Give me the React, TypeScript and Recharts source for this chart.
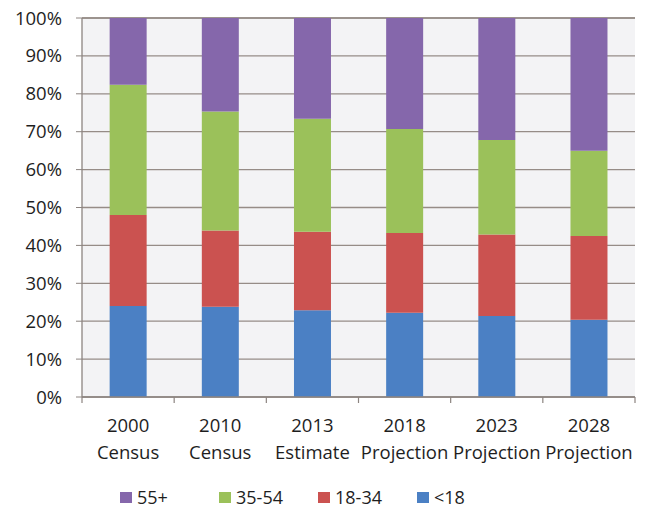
import { BarChart, Bar, XAxis, YAxis, CartesianGrid, Legend } from 'recharts';

const years = ['2000', '2010', '2013', '2018', '2023', '2028'];
const kinds = ['Census', 'Census', 'Estimate', 'Projection', 'Projection', 'Projection'];

// share of population by age group, in percent
const under18 = [24.0, 23.8, 22.9, 22.2, 21.4, 20.4];
const age18to34 = [24.0, 20.1, 20.7, 21.1, 21.5, 22.1];
const age35to54 = [34.4, 31.4, 29.8, 27.4, 24.9, 22.5];
const age55plus = [17.6, 24.7, 26.6, 29.3, 32.2, 35.0];

const yTicks = [0, 10, 20, 30, 40, 50, 60, 70, 80, 90, 100];

const series = [
  { key: 'u18', name: '<18', color: '#4b80c4' },
  { key: 'a18', name: '18-34', color: '#cb5250' },
  { key: 'a35', name: '35-54', color: '#9bc15a' },
  { key: 'a55', name: '55+', color: '#8567ab' },
];

const data = years.map((y, i) => ({
  label: y + '|' + kinds[i],
  u18: under18[i],
  a18: age18to34[i],
  a35: age35to54[i],
  a55: age55plus[i],
}));

const FONT = '"Open Sans", sans-serif';
const AXIS = '#8c8480';

// label in two lines, plus tick marks on the category edges
function XTick({ x, y, payload, index, visibleTicksCount }: any) {
  const [year, kind] = String(payload.value).split('|');
  const half = payload.offset || 0;
  const top = y - 8;
  const last = index === visibleTicksCount - 1;
  return (
    <g>
      <line x1={x - half} x2={x - half} y1={top} y2={top + 6} stroke={AXIS} strokeWidth={1.2} />
      {last && <line x1={x + half} x2={x + half} y1={top} y2={top + 6} stroke={AXIS} strokeWidth={1.2} />}
      <text x={x} y={y} textAnchor="middle" fontFamily={FONT} fontSize={18.5} fill="#1e1e1e">
        <tspan x={x} dy={27}>{year}</tspan>
        <tspan x={x} dy={27}>{kind}</tspan>
      </text>
    </g>
  );
}

function YTick({ y, payload }: any) {
  return (
    <text x={62} y={y} dy={6.5} textAnchor="end" fontFamily={FONT} fontSize={18.5} fill="#1e1e1e">
      {payload.value}%
    </text>
  );
}

function LegendBox() {
  const items = [...series].reverse();
  return (
    <div style={{ position: 'relative', width: 647, height: 22, fontFamily: FONT, fontSize: 18, color: '#1e1e1e', lineHeight: 1 }}>
      {items.map((s, i) => (
        <div key={s.key} style={{ position: 'absolute', left: 120 + i * 99, top: 2, display: 'flex', alignItems: 'center', height: 18 }}>
          <span style={{ display: 'inline-block', width: 12, height: 11, background: s.color, marginRight: 5 }} />
          <span style={{ lineHeight: 1 }}>{s.name}</span>
        </div>
      ))}
    </div>
  );
}

export default function App() {
  return (
    <div style={{ position: 'absolute', left: 0, top: 0, width: 647, height: 508, background: '#fff', overflow: 'hidden' }}>
      <BarChart
        width={647}
        height={508}
        data={data}
        margin={{ top: 18, right: 12, bottom: 0, left: 0 }}
        barCategoryGap="30%"
      >
        <CartesianGrid vertical={false} stroke="#968c87" strokeWidth={1.3} fill="#f3f3f5" />
        <XAxis
          dataKey="label"
          height={89}
          interval={0}
          tick={<XTick />}
          tickLine={false}
          axisLine={{ stroke: AXIS, strokeWidth: 1.3 }}
        />
        <YAxis
          width={82}
          domain={[0, 100]}
          ticks={yTicks}
          interval={0}
          tick={<YTick />}
          tickSize={6}
          tickLine={{ stroke: AXIS }}
          axisLine={{ stroke: AXIS, strokeWidth: 1.3 }}
        />
        {series.map((s) => (
          <Bar key={s.key} dataKey={s.key} name={s.name} stackId="a" fill={s.color} isAnimationActive={false} />
        ))}
        <Legend verticalAlign="bottom" content={<LegendBox />} wrapperStyle={{ left: 0, bottom: 0, width: 647 }} />
      </BarChart>
    </div>
  );
}
